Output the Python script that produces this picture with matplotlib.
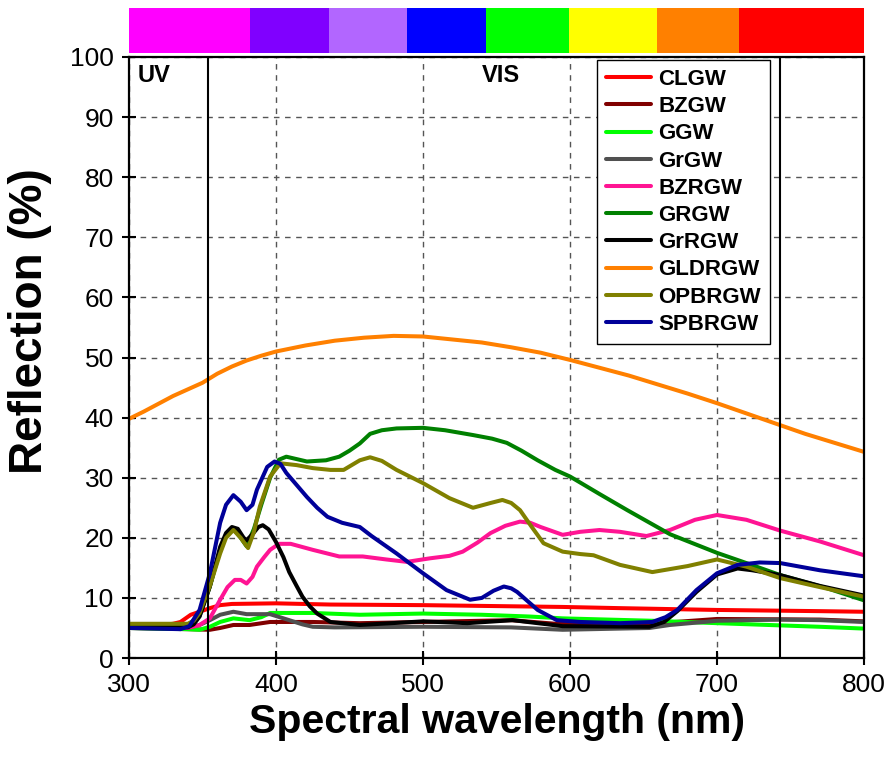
import matplotlib

matplotlib.use("Agg")
import matplotlib.pyplot as plt

plt.rcParams.update({
    "font.family": ["Liberation Sans", "DejaVu Sans"],
})

# ---- data ----
series_names = ["CLGW", "BZGW", "GGW", "GrGW", "BZRGW", "GRGW", "GrRGW",
                "GLDRGW", "OPBRGW", "SPBRGW"]
series_colors = ["#ff0000", "#800000", "#00ff00", "#505050", "#ff1493",
                 "#008000", "#000000", "#ff8000", "#808000", "#000099"]

clgw_x = [300, 320, 330, 335, 342, 348, 355, 362, 370, 400, 437, 500, 595,
          634, 700, 770, 800]
clgw_y = [5.3, 5.4, 5.7, 6.0, 7.2, 7.7, 8.3, 8.8, 9.0, 9.1, 8.9, 8.8, 8.5,
          8.3, 8.0, 7.8, 7.7]

bzgw_x = [300, 340, 355, 362, 371, 382, 396, 425, 457, 500, 560, 590, 620,
          660, 700, 770, 800]
bzgw_y = [5.0, 4.8, 4.7, 5.0, 5.5, 5.5, 6.0, 6.0, 5.8, 6.0, 6.3, 5.7, 5.5,
          5.8, 6.5, 6.4, 6.1]

ggw_x = [300, 340, 348, 355, 362, 371, 382, 390, 396, 425, 457, 500, 540,
         573, 595, 656, 700, 770, 800]
ggw_y = [5.0, 4.8, 4.7, 5.2, 6.0, 6.6, 6.3, 6.8, 7.5, 7.5, 7.2, 7.4, 7.2,
         6.9, 6.6, 6.2, 5.8, 5.2, 4.9]

grgw_x = [300, 340, 348, 355, 362, 371, 380, 396, 409, 418, 425, 440, 500,
          560, 595, 634, 654, 668, 700, 743, 770, 800]
grgw_y = [5.0, 5.0, 5.5, 6.3, 7.2, 7.7, 7.3, 7.3, 6.3, 5.6, 5.2, 5.1, 5.2,
          5.1, 4.7, 4.9, 5.0, 5.5, 6.2, 6.4, 6.3, 6.0]

bzrgw_x = [300, 340, 348, 355, 362, 367, 372, 376, 380, 384, 387, 392, 396,
           402, 410, 425, 443, 459, 475, 489, 505, 518, 527, 537, 546, 556,
           566, 573, 580, 595, 607, 620, 634, 652, 668, 685, 700, 720, 743,
           770, 800]
bzrgw_y = [5.0, 5.0, 5.5, 6.6, 9.7, 11.8, 13.0, 13.0, 12.4, 13.5, 15.2, 16.8,
           18.0, 19.0, 19.0, 18.0, 16.9, 16.9, 16.4, 16.0, 16.6, 17.0, 17.7,
           19.2, 20.8, 22.0, 22.7, 22.5, 21.8, 20.5, 21.0, 21.3, 21.0, 20.3,
           21.3, 23.0, 23.8, 23.0, 21.2, 19.4, 17.1]

grgw2_x = [300, 340, 348, 355, 362, 366, 371, 376, 380, 385, 390, 396, 402,
           407, 414, 421, 434, 443, 450, 457, 464, 472, 482, 500, 515, 534,
           547, 557, 567, 578, 590, 600, 620, 639, 668, 700, 720, 743, 775,
           800]
grgw2_y = [5.5, 5.5, 7.0, 11.9, 18.0, 20.5, 21.5, 20.0, 18.6, 21.5, 25.5,
           30.0, 33.0, 33.5, 33.1, 32.7, 32.9, 33.5, 34.5, 35.7, 37.3, 37.9,
           38.2, 38.3, 37.9, 37.1, 36.5, 35.8, 34.5, 32.9, 31.3, 30.2, 27.3,
           24.6, 20.6, 17.5, 15.8, 13.8, 11.6, 9.6]

grrgw_x = [300, 340, 344, 348, 355, 362, 366, 370, 374, 378, 380, 384, 388,
           391, 395, 400, 405, 409, 414, 418, 423, 428, 437, 457, 500, 530,
           561, 595, 654, 664, 673, 686, 700, 714, 724, 743, 770, 800]
grrgw_y = [5.1, 5.1, 5.6, 6.9, 11.9, 18.5, 20.8, 21.8, 21.5, 20.0, 19.6,
           20.6, 21.8, 22.1, 21.4, 19.3, 16.8, 14.3, 12.0, 10.2, 8.6, 7.4,
           6.0, 5.5, 6.1, 5.8, 6.3, 5.3, 5.2, 6.0, 7.8, 11.0, 13.9, 14.9,
           14.6, 13.8, 12.0, 10.4]

gldrgw_x = [300, 310, 320, 330, 340, 350, 360, 370, 380, 390, 400, 420, 440,
            460, 480, 500, 520, 540, 560, 580, 600, 620, 640, 660, 680, 700,
            720, 740, 760, 780, 800]
gldrgw_y = [39.8, 41.0, 42.3, 43.6, 44.7, 45.8, 47.3, 48.5, 49.5, 50.3, 51.0,
            52.0, 52.8, 53.3, 53.6, 53.5, 53.0, 52.5, 51.7, 50.8, 49.6, 48.3,
            47.0, 45.5, 44.0, 42.4, 40.7, 39.0, 37.3, 35.8, 34.3]

opbrgw_x = [300, 340, 344, 348, 355, 362, 366, 371, 376, 381, 385, 389, 396,
            403, 414, 425, 437, 446, 457, 464, 472, 482, 500, 518, 534, 546,
            554, 560, 566, 574, 582, 595, 607, 616, 634, 656, 680, 700, 720,
            743, 770, 800]
opbrgw_y = [5.7, 5.7, 6.2, 7.5, 12.0, 17.4, 20.0, 21.3, 20.0, 18.3, 21.0,
            25.2, 30.2, 32.4, 32.1, 31.6, 31.3, 31.3, 32.9, 33.4, 32.8, 31.3,
            29.1, 26.6, 25.0, 25.8, 26.3, 25.8, 24.6, 21.8, 19.1, 17.7, 17.3,
            17.1, 15.5, 14.3, 15.3, 16.4, 15.2, 13.3, 11.8, 10.2]

spbrgw_x = [300, 335, 341, 348, 355, 362, 366, 371, 376, 380, 384, 387, 394,
            399, 403, 407, 414, 421, 428, 435, 445, 457, 465, 482, 500, 516,
            532, 540, 548, 555, 560, 564, 578, 591, 607, 634, 656, 665, 673,
            686, 700, 714, 729, 743, 770, 800]
spbrgw_y = [5.0, 4.8, 5.3, 8.0, 14.1, 22.5, 25.5, 27.1, 26.0, 24.6, 25.5,
            28.0, 31.8, 32.7, 32.3, 30.8, 28.8, 26.8, 25.0, 23.5, 22.5, 21.8,
            20.3, 17.4, 14.1, 11.3, 9.7, 10.0, 11.2, 11.9, 11.6, 11.0, 8.0,
            6.3, 6.0, 5.8, 6.0, 6.8, 8.0, 11.3, 14.1, 15.5, 15.9, 15.8, 14.6,
            13.6]

series_x = [clgw_x, bzgw_x, ggw_x, grgw_x, bzrgw_x, grgw2_x, grrgw_x,
            gldrgw_x, opbrgw_x, spbrgw_x]
series_y = [clgw_y, bzgw_y, ggw_y, grgw_y, bzrgw_y, grgw2_y, grrgw_y,
            gldrgw_y, opbrgw_y, spbrgw_y]

# spectrum colour strip (band edges in nm)
band_edges = [299, 382, 436, 489, 543, 599, 659, 715, 800]
band_colors = ["#ff00ff", "#8000ff", "#b266ff", "#0000ff", "#00ff00",
               "#ffff00", "#ff8000", "#ff0000"]

region_lines = [354, 743]

fig = plt.figure(figsize=(8.91, 7.64), dpi=100)
ax = fig.add_axes([0.1448, 0.1387, 0.8249, 0.7867])
strip = fig.add_axes([0.1448, 0.9306, 0.8249, 0.0589])

for xs, ys, name, col in zip(series_x, series_y, series_names, series_colors):
    ax.plot(xs, ys, color=col, lw=2.9, label=name,
            solid_joinstyle="round", solid_capstyle="round")

for xv in region_lines:
    ax.axvline(xv, color="black", lw=1.5)

ax.text(306, 97.0, "UV", fontsize=17, fontweight="bold", va="center")
ax.text(540, 97.0, "VIS", fontsize=17, fontweight="bold", va="center")

ax.set_xlim(300, 800)
ax.set_ylim(0, 100)
ax.set_xticks(range(300, 801, 100))
ax.set_yticks(range(0, 101, 10))
ax.grid(True, color="#555555", linestyle=(0, (4, 4)), lw=1.0)
ax.tick_params(direction="inout", length=10, width=1.5, labelsize=19, pad=6)
for sp in ax.spines.values():
    sp.set_linewidth(1.6)

ax.set_xlabel("Spectral wavelength (nm)", fontsize=29.5, fontweight="bold",
              labelpad=4)
ax.set_ylabel("Reflection (%)", fontsize=33, fontweight="bold")
ax.yaxis.set_label_coords(-0.105, 0.56)

leg = ax.legend(loc="upper left", bbox_to_anchor=(0.637, 0.995),
                prop={"weight": "bold", "size": 16}, frameon=True,
                fancybox=False, edgecolor="black", framealpha=1,
                handlelength=2.0, handletextpad=0.35, labelspacing=0.28,
                borderpad=0.4, borderaxespad=0)
leg.get_frame().set_linewidth(1.0)

for i, col in enumerate(band_colors):
    strip.barh(0, band_edges[i + 1] - band_edges[i], left=band_edges[i],
               height=1, color=col, edgecolor="none")
strip.set_xlim(300, 800)
strip.set_ylim(-0.5, 0.5)
strip.axis("off")

fig.savefig("out.png", dpi=100)
